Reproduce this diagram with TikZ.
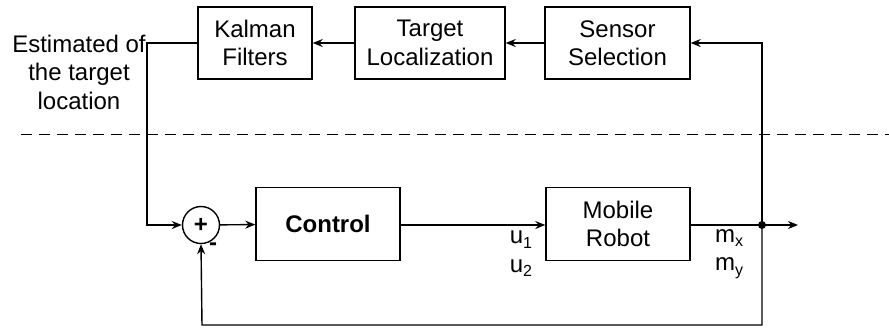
\documentclass[tikz,border=0pt]{standalone}
\usepackage{fontspec}
\setmainfont{Liberation Sans}
\usetikzlibrary{arrows.meta}
\newcommand{\lowsub}[1]{\raisebox{-0.35ex}{\fontsize{16}{16}\selectfont #1}}
\begin{document}
\begin{tikzpicture}[x=1pt,y=-1pt,
  line width=1.4pt,
  font=\fontsize{24}{28.5}\selectfont,
  block/.style={draw, rectangle, inner sep=0pt, minimum height=72pt, align=center},
  arr/.style={-{Stealth[length=10pt,width=8pt]}},
  lbl/.style={inner sep=0pt, align=center}]
\useasboundingbox (0,0) rectangle (889,333);

% estimation loop blocks
\node[block, minimum width=114pt] (kf) at (255,43) {Kalman\\Filters};
\node[block, minimum width=150pt] (tl) at (430,43) {Target\\Localization};
\node[block, minimum width=145pt] (ss) at (617.5,43) {Sensor\\Selection};

% control loop blocks
\node[draw, circle, minimum size=37pt, inner sep=0pt] (sum) at (201,225) {\textbf{+}};
\node[block, minimum width=144pt, minimum height=73pt] (ctrl) at (328,224) {\textbf{Control}};
\node[block, minimum width=144pt, minimum height=73pt] (mr) at (618,224) {Mobile\\Robot};

\node[lbl] (est) at (79,72) {Estimated of\\the target\\location};
\node[lbl] (minus) at (213,247) {\textbf{-}};
\node[lbl] (u) at (521,254) {u\lowsub{1}\\u\lowsub{2}};
\node[lbl] (m) at (729,254) {m\lowsub{x}\\m\lowsub{y}};

% routing points
\coordinate (br) at (762,225);
\coordinate (tr) at (762,43);
\coordinate (bot) at (762,325);
\coordinate (botl) at (202,325);
\coordinate (el) at (147,43);
\coordinate (eb) at (147,225);
\coordinate (out) at (798,225);
\coordinate (dl) at (21,134);
\coordinate (dr) at (889,134);

% separator
\draw[dash pattern=on 11pt off 7pt, line width=1pt] (dl) -- (dr);

% connectors
\draw[arr] (ss) -- (tl);
\draw[arr] (tl) -- (kf);
\draw[arr] (br) -- (tr) -- (ss.east);
\draw[arr] (kf.west) -- (el) -- (eb) -- (sum.west);
\draw[arr] (sum) -- (ctrl);
\draw[arr] (ctrl.east |- sum) -- (mr.west |- sum);
\draw (mr.east |- sum) -- (br);
\draw[arr] (br) -- (out);
\draw[arr] (br) -- (bot) -- (botl) -- (sum.south);
\fill (br) circle (4pt);
\end{tikzpicture}
\end{document}
